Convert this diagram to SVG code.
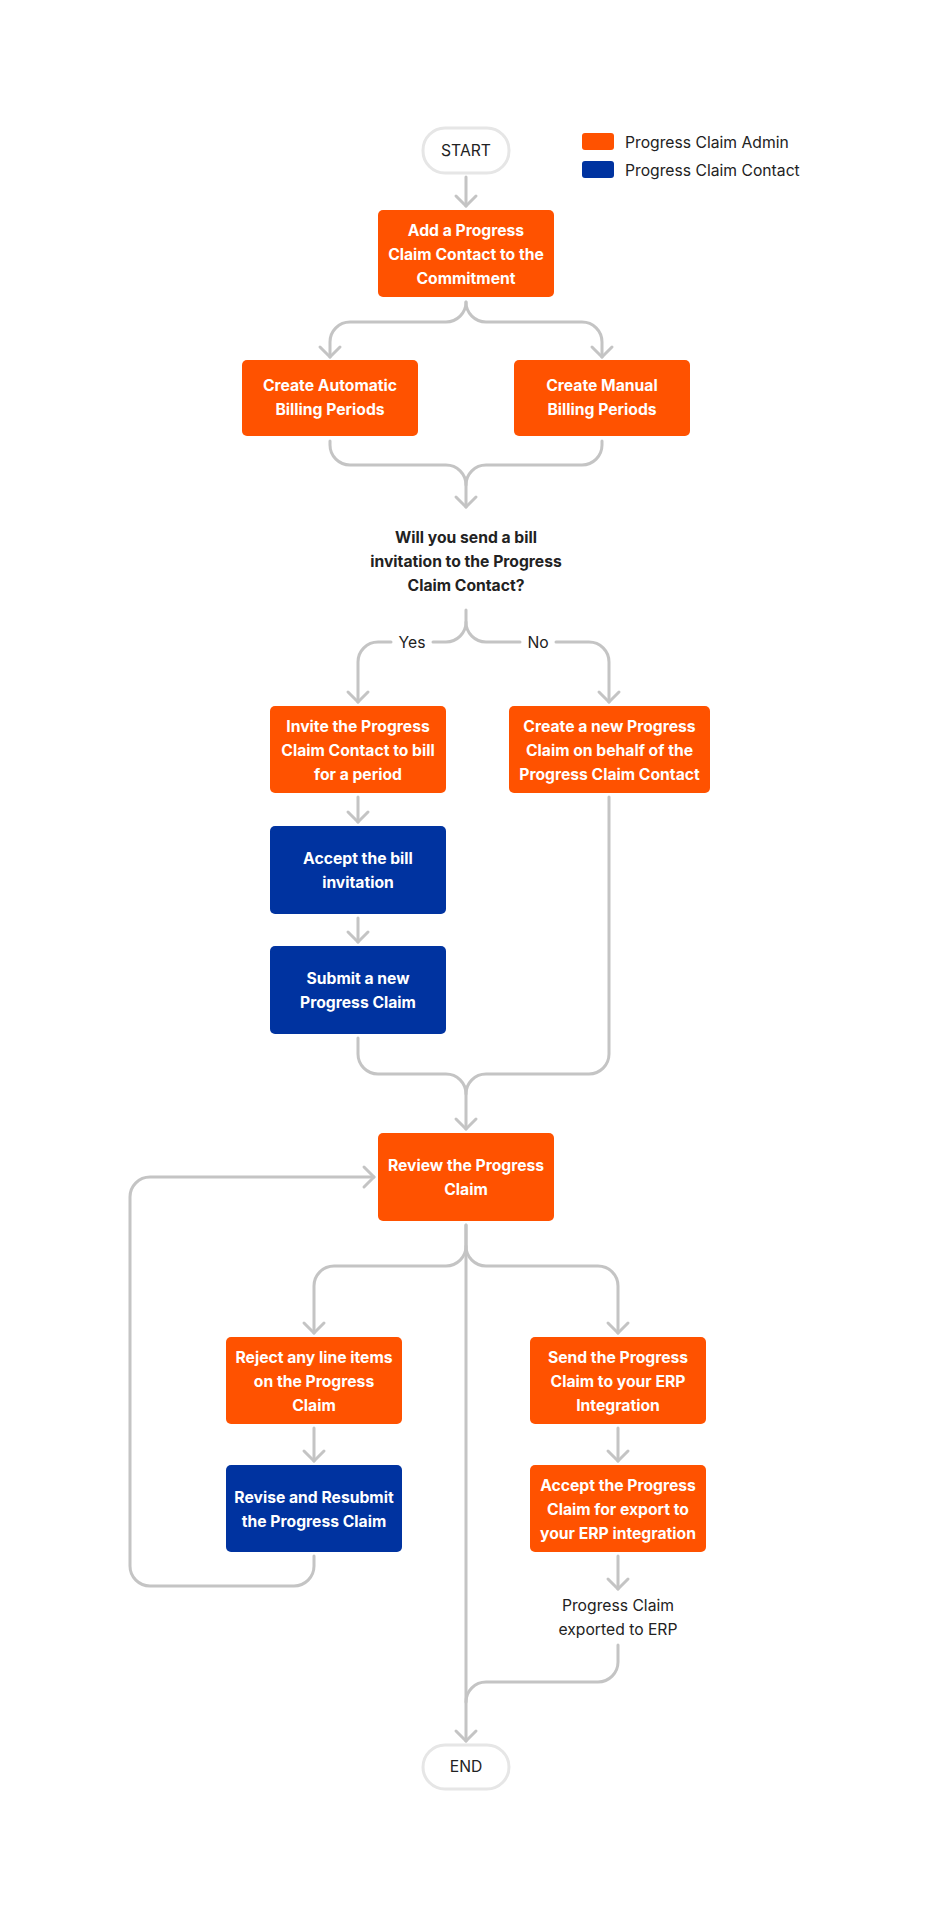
<svg xmlns="http://www.w3.org/2000/svg" width="929" height="1918" viewBox="0 0 929 1918">
<style>
.admin{fill:#FF5200}
.contact{fill:#0033A0}
.pill{fill:#fff;stroke:#E6E6E6;stroke-width:3}
.bt{font-family:Inter,"Liberation Sans",sans-serif;font-size:15.7px;font-weight:700;fill:#fff;text-anchor:middle}
.qt{font-family:Inter,"Liberation Sans",sans-serif;font-size:15.7px;font-weight:700;fill:#222;text-anchor:middle}
.rt{font-family:Inter,"Liberation Sans",sans-serif;font-size:15.7px;font-weight:400;fill:#222;text-anchor:middle}
.lt{font-family:Inter,"Liberation Sans",sans-serif;font-size:15.7px;font-weight:400;fill:#222}
.c{fill:none;stroke:#C4C4C4;stroke-width:3;stroke-linecap:round;stroke-linejoin:round}
.a{marker-end:url(#arr)}
</style>
<defs>
<marker id="arr" markerUnits="userSpaceOnUse" viewBox="-12 -12 14 24" refX="0" refY="0" markerWidth="14" markerHeight="24" orient="auto" overflow="visible">
<path d="M-10,-10 L0,0 L-10,10" fill="none" stroke="#C4C4C4" stroke-width="3" stroke-linecap="round" stroke-linejoin="round"/>
</marker>
</defs>
<rect width="929" height="1918" fill="#fff"/>

<g id="legend">
<rect x="582" y="133" width="32" height="17" rx="3" class="admin"/>
<text x="625" y="148" class="lt">Progress Claim Admin</text>
<rect x="582" y="161" width="32" height="17" rx="3" class="contact"/>
<text x="625" y="176" class="lt">Progress Claim Contact</text>
</g>

<g id="connectors">
<path class="c a" d="M466,177 L466,206"/>
<path class="c a" d="M466,302 A20,20 0 0 1 446,322 L350,322 A20,20 0 0 0 330,342 L330,357"/>
<path class="c a" d="M466,302 A20,20 0 0 0 486,322 L582,322 A20,20 0 0 1 602,342 L602,357"/>
<path class="c" d="M330,441 L330,445 A20,20 0 0 0 350,465 L446,465 A20,20 0 0 1 466,485"/>
<path class="c a" d="M602,441 L602,445 A20,20 0 0 1 582,465 L486,465 A20,20 0 0 0 466,485 L466,507"/>
<path class="c" d="M466,610 L466,622 A20,20 0 0 1 446,642 L433,642"/>
<path class="c a" d="M391,642 L378,642 A20,20 0 0 0 358,662 L358,702"/>
<path class="c" d="M466,622 A20,20 0 0 0 486,642 L520,642"/>
<path class="c a" d="M556,642 L589,642 A20,20 0 0 1 609,662 L609,702"/>
<path class="c a" d="M358,797 L358,822"/>
<path class="c a" d="M358,918 L358,942"/>
<path class="c" d="M358,1038 L358,1054 A20,20 0 0 0 378,1074 L446,1074 A20,20 0 0 1 466,1094"/>
<path class="c a" d="M609,797 L609,1054 A20,20 0 0 1 589,1074 L486,1074 A20,20 0 0 0 466,1094 L466,1129"/>
<path class="c a" d="M466,1225 L466,1246 A20,20 0 0 1 446,1266 L334,1266 A20,20 0 0 0 314,1286 L314,1333"/>
<path class="c a" d="M466,1246 A20,20 0 0 0 486,1266 L598,1266 A20,20 0 0 1 618,1286 L618,1333"/>
<path class="c a" d="M466,1225 L466,1741"/>
<path class="c a" d="M314,1428 L314,1461"/>
<path class="c a" d="M618,1428 L618,1461"/>
<path class="c a" d="M618,1556 L618,1589"/>
<path class="c a" d="M314,1556 L314,1566 A20,20 0 0 1 294,1586 L150,1586 A20,20 0 0 1 130,1566 L130,1197 A20,20 0 0 1 150,1177 L374,1177"/>
<path class="c" d="M618,1645 L618,1662 A20,20 0 0 1 598,1682 L486,1682 A20,20 0 0 0 466,1702"/>
<text x="412" y="648" class="rt">Yes</text>
<text x="538" y="648" class="rt">No</text>
</g>

<g id="start">
<rect x="423" y="128" width="86" height="45" rx="22" class="pill"/>
<text x="466" y="156" class="rt">START</text>
</g>

<g id="add-contact">
<rect x="378" y="210" width="176" height="87" rx="5" class="admin"/>
<text class="bt"><tspan x="466" y="236">Add a Progress</tspan><tspan x="466" y="260">Claim Contact to the</tspan><tspan x="466" y="284">Commitment</tspan></text>
</g>

<g id="auto-billing">
<rect x="242" y="360" width="176" height="76" rx="5" class="admin"/>
<text class="bt"><tspan x="330" y="391">Create Automatic</tspan><tspan x="330" y="415">Billing Periods</tspan></text>
</g>

<g id="manual-billing">
<rect x="514" y="360" width="176" height="76" rx="5" class="admin"/>
<text class="bt"><tspan x="602" y="391">Create Manual</tspan><tspan x="602" y="415">Billing Periods</tspan></text>
</g>

<g id="decision">
<text class="qt"><tspan x="466" y="543">Will you send a bill</tspan><tspan x="466" y="567">invitation to the Progress</tspan><tspan x="466" y="591">Claim Contact?</tspan></text>
</g>

<g id="invite">
<rect x="270" y="706" width="176" height="87" rx="5" class="admin"/>
<text class="bt"><tspan x="358" y="732">Invite the Progress</tspan><tspan x="358" y="756">Claim Contact to bill</tspan><tspan x="358" y="780">for a period</tspan></text>
</g>

<g id="create-new">
<rect x="509" y="706" width="201" height="87" rx="5" class="admin"/>
<text class="bt"><tspan x="609.5" y="732">Create a new Progress</tspan><tspan x="609.5" y="756">Claim on behalf of the</tspan><tspan x="609.5" y="780">Progress Claim Contact</tspan></text>
</g>

<g id="accept-bill">
<rect x="270" y="826" width="176" height="88" rx="5" class="contact"/>
<text class="bt"><tspan x="358" y="864">Accept the bill</tspan><tspan x="358" y="888">invitation</tspan></text>
</g>

<g id="submit">
<rect x="270" y="946" width="176" height="88" rx="5" class="contact"/>
<text class="bt"><tspan x="358" y="984">Submit a new</tspan><tspan x="358" y="1008">Progress Claim</tspan></text>
</g>

<g id="review">
<rect x="378" y="1133" width="176" height="88" rx="5" class="admin"/>
<text class="bt"><tspan x="466" y="1171">Review the Progress</tspan><tspan x="466" y="1195">Claim</tspan></text>
</g>

<g id="reject">
<rect x="226" y="1337" width="176" height="87" rx="5" class="admin"/>
<text class="bt"><tspan x="314" y="1363">Reject any line items</tspan><tspan x="314" y="1387">on the Progress</tspan><tspan x="314" y="1411">Claim</tspan></text>
</g>

<g id="revise">
<rect x="226" y="1465" width="176" height="87" rx="5" class="contact"/>
<text class="bt"><tspan x="314" y="1503">Revise and Resubmit</tspan><tspan x="314" y="1527">the Progress Claim</tspan></text>
</g>

<g id="send-erp">
<rect x="530" y="1337" width="176" height="87" rx="5" class="admin"/>
<text class="bt"><tspan x="618" y="1363">Send the Progress</tspan><tspan x="618" y="1387">Claim to your ERP</tspan><tspan x="618" y="1411">Integration</tspan></text>
</g>

<g id="accept-export">
<rect x="530" y="1465" width="176" height="87" rx="5" class="admin"/>
<text class="bt"><tspan x="618" y="1491">Accept the Progress</tspan><tspan x="618" y="1515">Claim for export to</tspan><tspan x="618" y="1539">your ERP integration</tspan></text>
</g>

<g id="exported">
<text class="rt"><tspan x="618" y="1611">Progress Claim</tspan><tspan x="618" y="1635">exported to ERP</tspan></text>
</g>

<g id="end">
<rect x="423" y="1745" width="86" height="44" rx="22" class="pill"/>
<text x="466" y="1772" class="rt">END</text>
</g>
</svg>
